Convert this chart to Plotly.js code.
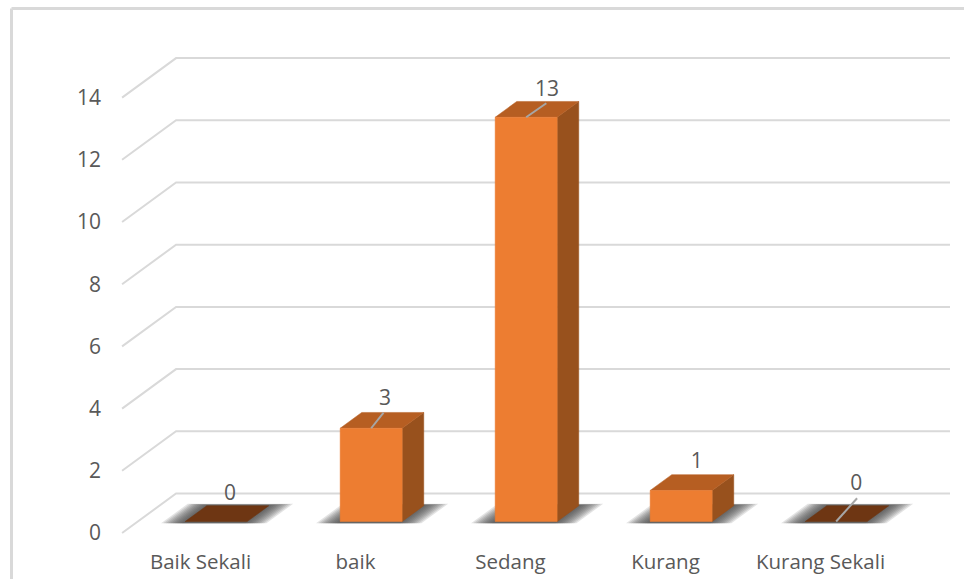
<!DOCTYPE html>
<html>
<head>
<meta charset="utf-8">
<script src="https://cdn.plot.ly/plotly-3.0.1.min.js"></script>
<style>html,body{margin:0;padding:0;background:#fff}#c{width:964px;height:579px}</style>
</head>
<body>
<div id="c"></div>
<script>
var categories = ["Baik Sekali", "baik", "Sedang", "Kurang", "Kurang Sekali"];
var values = [0, 3, 13, 1, 0];
var yTicks = [0, 2, 4, 6, 8, 10, 12, 14];

var colFront = "#ed7d31", colTop = "#b65e22", colSide = "#98511d", colFlat = "#6e3613";
var colGrid = "#d9d9d9", colText = "#595959", colLeader = "#a6a6a6";
var fontFam = '"Open Sans", "Noto Sans", sans-serif';

// oblique projection: one unit of depth in axis units
var depthX = 54 / 155, depthY = 39.5 / 31.1;
function P(cat, v, d) { return [cat + depthX * d, v + depthY * d]; }

var halfW = 0.2, dFront = 0.29, dBack = 0.69;
var labelOff = [[0.09, 0.85], [0.09, 0.93], [0.135, 0.85], [0.10, 0.9], [0.13, 1.17]]; // label offset from bar top
var leaderEnd = [null, [0.08, 0.5], [0.13, 0.45], null, [0.135, 0.75]];

var traces = [];
function poly(pts, color, hasLine) {
  traces.push({
    type: "scatter", mode: "lines", fill: "toself", fillcolor: color,
    x: pts.map(function (p) { return p[0]; }).concat([pts[0][0]]),
    y: pts.map(function (p) { return p[1]; }).concat([pts[0][1]]),
    line: { width: hasLine ? 0.5 : 0, color: color }, hoverinfo: "skip", showlegend: false
  });
}
function line(pts, color, w) {
  traces.push({
    type: "scatter", mode: "lines",
    x: pts.map(function (p) { return p[0]; }), y: pts.map(function (p) { return p[1]; }),
    line: { width: w, color: color }, hoverinfo: "skip", showlegend: false
  });
}

// walls: gridlines
var floorL = -0.506, floorR = 4.487;
yTicks.forEach(function (t) {
  line([P(floorL, t, 0), P(floorL, t, 1), P(floorR, t, 1)], colGrid, 2);
});

// floor shadows: soft edge made of thin translucent layers
var shadowSpread = [0.14, 0.125, 0.11, 0.095, 0.08, 0.065, 0.05, 0.035, 0.02, 0.005];
categories.forEach(function (c, i) {
  shadowSpread.forEach(function (e) {
    var l = i - halfW - e, r = i + halfW + e;
    var f = dFront - 0.045, b = dBack + 0.015 + e * 0.25;
    poly([P(l, 0, f), P(r, 0, f), P(r, 0, b), P(l, 0, b)], "rgba(70,70,70,0.15)");
  });
});

// bars
categories.forEach(function (c, i) {
  var v = values[i], l = i - halfW, r = i + halfW;
  if (v > 0) {
    poly([P(r, 0, dFront), P(r, 0, dBack), P(r, v, dBack), P(r, v, dFront)], colSide, true);
    poly([P(l, v, dFront), P(r, v, dFront), P(r, v, dBack), P(l, v, dBack)], colTop, true);
    poly([P(l, 0, dFront), P(r, 0, dFront), P(r, v, dFront), P(l, v, dFront)], colFront, true);
  } else {
    poly([P(l, 0, dFront), P(r, 0, dFront), P(r, 0, dBack), P(l, 0, dBack)], colFlat, true);
  }
});

// leader lines
categories.forEach(function (c, i) {
  if (!leaderEnd[i]) return;
  var s = P(i, values[i], dFront);
  line([s, [s[0] + leaderEnd[i][0], s[1] + leaderEnd[i][1]]], colLeader, 2);
});

// data labels
traces.push({
  type: "scatter", mode: "text",
  x: categories.map(function (c, i) { return P(i, values[i], dFront)[0] + labelOff[i][0]; }),
  y: categories.map(function (c, i) { return P(i, values[i], dFront)[1] + labelOff[i][1]; }),
  text: values.map(String), textposition: "middle center",
  textfont: { family: fontFam, size: 21, color: colText },
  hoverinfo: "skip", showlegend: false, cliponaxis: false
});

var left = 102, bottomPx = 547, W = 964, H = 579, x0Px = 200.5, y0Px = 533;
var layout = {
  width: W, height: H, autosize: false,
  paper_bgcolor: "#fff", plot_bgcolor: "rgba(0,0,0,0)",
  margin: { l: left, r: 0, t: 0, b: H - bottomPx, pad: 0 },
  showlegend: false,
  xaxis: {
    range: [(left - x0Px) / 155, (W - x0Px) / 155],
    tickmode: "array", tickvals: categories.map(function (c, i) { return i; }), ticktext: categories,
    showgrid: false, zeroline: false, showline: false, ticks: "",
    tickfont: { family: fontFam, size: 20.5, color: colText }, automargin: false
  },
  yaxis: {
    range: [(y0Px - bottomPx) / 31.1, y0Px / 31.1],
    tickmode: "array", tickvals: yTicks, ticktext: yTicks.map(String),
    showgrid: false, zeroline: false, showline: false, ticks: "",
    tickfont: { family: fontFam, size: 21, color: colText }, automargin: false
  },
  shapes: [
    { type: "line", xref: "paper", yref: "paper", x0: (11.5 - left) / (W - left), x1: (11.5 - left) / (W - left), y0: (bottomPx - H) / bottomPx, y1: (bottomPx - 8.5) / bottomPx, line: { color: colGrid, width: 3 } },
    { type: "line", xref: "paper", yref: "paper", x0: (11.5 - left) / (W - left), x1: 1, y0: (bottomPx - 8.5) / bottomPx, y1: (bottomPx - 8.5) / bottomPx, line: { color: colGrid, width: 3 } }
  ]
};
Plotly.newPlot("c", traces, layout, { displayModeBar: false, staticPlot: true });
</script>
</body>
</html>
